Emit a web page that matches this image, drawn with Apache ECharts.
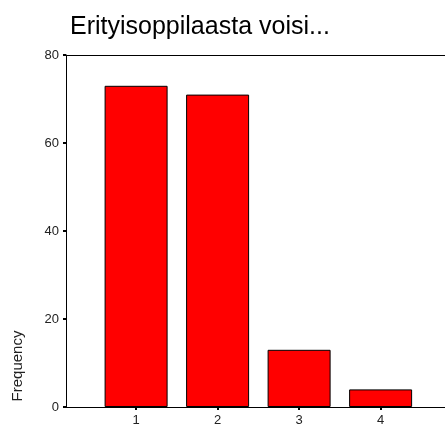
<!DOCTYPE html>
<html><head><meta charset="utf-8">
<script src="https://cdn.jsdelivr.net/npm/echarts@6/dist/echarts.min.js"></script>
<style>html,body{margin:0;padding:0;background:#fff}#c{width:445px;height:428px}</style>
</head><body><div id="c"></div>
<script>
const titleText = "Erityisoppilaasta voisi...";
const yAxisTitle = "Frequency";
const categories = [1, 2, 3, 4];
const frequencies = [73, 71, 13, 4];
const yTicks = [0, 20, 40, 60, 80];

const chart = echarts.init(document.getElementById('c'), null, {renderer: 'canvas'});
const font = '"Liberation Sans", Arial, sans-serif';
const xMin = 0.14, xMax = 4.79;
chart.setOption({
  animation: false,
  backgroundColor: '#fff',
  title: {text: titleText, left: 65, top: 10, textStyle: {fontFamily: font, fontSize: 25, fontWeight: 'normal', color: '#000'}},
  grid: {left: 66, right: 0, top: 55, bottom: 21, containLabel: false},
  xAxis: [{
    type: 'value', min: xMin, max: xMax, position: 'bottom',
    axisLine: {show: true, lineStyle: {color: '#000', width: 1}},
    axisTick: {show: true, customValues: categories, length: 3, lineStyle: {color: '#000', width: 2}},
    axisLabel: {show: true, customValues: categories, fontFamily: font, fontSize: 13, color: '#222', margin: 7},
    splitLine: {show: false}
  }, {
    type: 'value', min: xMin, max: xMax, position: 'top',
    axisLine: {show: true, lineStyle: {color: '#000', width: 1}},
    axisTick: {show: false}, axisLabel: {show: false}, splitLine: {show: false}
  }],
  yAxis: {
    type: 'value', min: 0, max: 80, interval: 20,
    axisLine: {show: true, lineStyle: {color: '#000', width: 1}},
    axisTick: {show: true, length: 3, lineStyle: {color: '#000', width: 2}},
    axisLabel: {fontFamily: font, fontSize: 13, color: '#222', margin: 7, customValues: yTicks},
    splitLine: {show: false}
  },
  graphic: [{
    type: 'text', x: 18, y: 366, rotation: Math.PI / 2,
    style: {text: yAxisTitle, font: '15px "Liberation Sans", Arial, sans-serif', fill: '#222', align: 'center', verticalAlign: 'middle'}
  }],
  series: [{
    type: 'bar', xAxisIndex: 0, barWidth: 63,
    data: categories.map((c, i) => [c, frequencies[i]]),
    itemStyle: {color: '#ff0000', borderColor: '#000', borderWidth: 1}
  }]
});
</script></body></html>
